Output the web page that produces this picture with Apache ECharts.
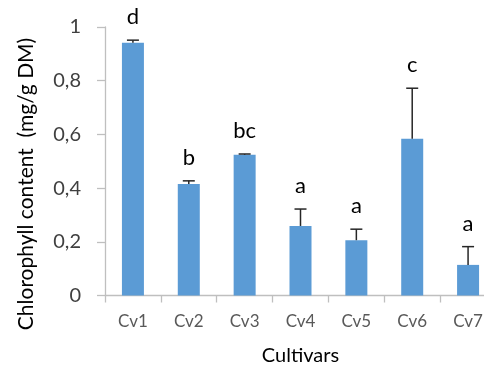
<!DOCTYPE html>
<html><head><meta charset="utf-8">
<script src="https://cdn.jsdelivr.net/npm/echarts@6/dist/echarts.min.js"></script>
<style>html,body{margin:0;padding:0;background:#fff}#c{width:484px;height:367px}</style>
</head><body><div id="c"></div>
<script>
var categories = ['Cv1','Cv2','Cv3','Cv4','Cv5','Cv6','Cv7'];
var means = [0.941, 0.415, 0.524, 0.259, 0.206, 0.584, 0.114];
var errors = [0.010, 0.012, 0.003, 0.063, 0.041, 0.188, 0.068];
var letters = ['d','b','bc','a','a','c','a'];
var yTicks = [0, 0.2, 0.4, 0.6, 0.8, 1];

var FONT = 'Lato, "Open Sans", sans-serif';
var chart = echarts.init(document.getElementById('c'));
var errData = means.map(function(m,i){return [i, m, errors[i], letters[i]];});
chart.setOption({
  animation:false,
  grid:{left:105, top:27, width:391, height:268.5, containLabel:false, outerBoundsMode:'none'},
  xAxis:{type:'category', data:categories, boundaryGap:true,
    axisLine:{lineStyle:{color:'#bfbfbf', width:1.3}},
    axisTick:{show:true, length:7, lineStyle:{color:'#bfbfbf', width:1.3}},
    axisLabel:{color:'#595959', fontSize:17, fontFamily:FONT, margin:18},
    name:'Cultivars', nameLocation:'middle', nameGap:50,
    nameTextStyle:{color:'#000', fontSize:20, fontFamily:FONT}
  },
  yAxis:{type:'value', min:0, max:1, interval:0.2,
    axisLine:{show:true, lineStyle:{color:'#bfbfbf', width:1.3}},
    axisTick:{show:true, length:8, lineStyle:{color:'#bfbfbf', width:1.3}},
    splitLine:{show:false},
    axisLabel:{color:'#404040', fontSize:20, fontFamily:FONT, margin:24,
      formatter:function(v){return yTicks.indexOf(v)>=0 ? String(v).replace('.',',') : '';}}
  },
  graphic:[{type:'text', x:26, y:184, rotation:Math.PI/2,
    style:{text:'Chlorophyll content  (mg/g DM)', fill:'#000', font:'21px '+FONT, textAlign:'center', textVerticalAlign:'middle', x:0, y:0}}],
  series:[
    {type:'bar', data:means, barWidth:22, itemStyle:{color:'#5b9bd5'}},
    {type:'custom', data:errData, z:5,
      renderItem:function(params, api){
        var x = api.value(0), m = api.value(1), e = api.value(2);
        var top = api.coord([x, m+e]);
        var base = api.coord([x, m]);
        var w = 6;
        return {type:'group', children:[
          {type:'line', shape:{x1:top[0], y1:base[1], x2:top[0], y2:top[1]}, style:{stroke:'#262626', lineWidth:1.5}},
          {type:'line', shape:{x1:top[0]-w, y1:top[1], x2:top[0]+w, y2:top[1]}, style:{stroke:'#262626', lineWidth:1.5}},
          {type:'text', style:{text:letters[params.dataIndex], x:top[0], y:top[1]-12, textAlign:'center', textVerticalAlign:'bottom', fill:'#000', font:'22px '+FONT}}
        ]};
      }
    }
  ]
});
</script></body></html>
